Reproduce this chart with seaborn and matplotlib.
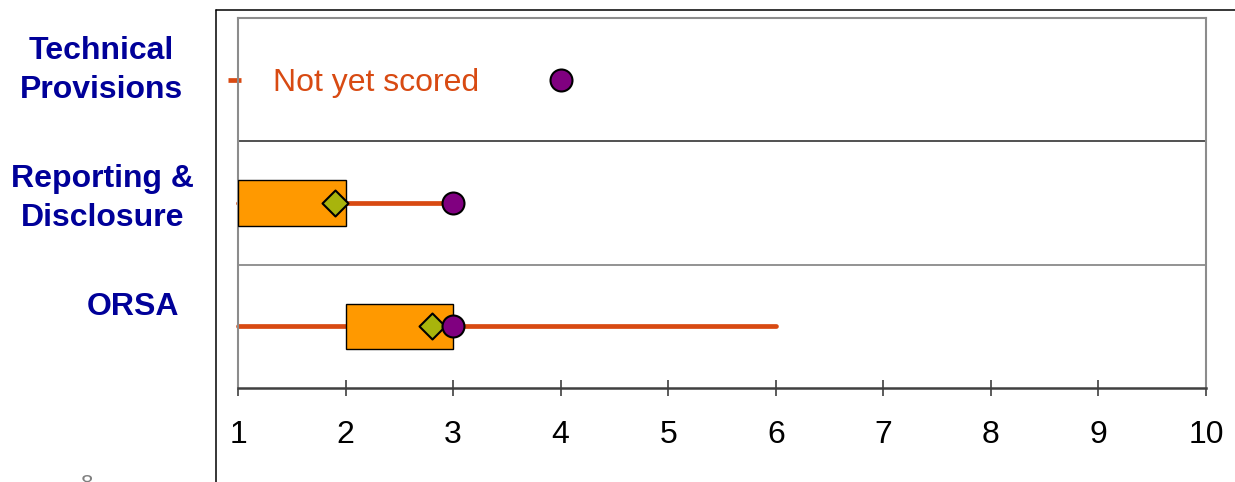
import numpy as np
import pandas as pd
import matplotlib
matplotlib.use("Agg")
import matplotlib.pyplot as plt
from matplotlib.lines import Line2D
import seaborn as sns

# ---- data -------------------------------------------------------------
categories = ["Technical Provisions", "Reporting & Disclosure", "ORSA"]
label_lines = [["Technical", "Provisions"], ["Reporting &", "Disclosure"], ["ORSA"]]
range_low = [0.91, 1.0, 1.0]          # whisker start
range_high = [1.03, 3.0, 6.0]         # whisker end
quartile_low = [np.nan, 1.0, 2.0]     # box start
quartile_high = [np.nan, 2.0, 3.0]    # box end
average_score = [np.nan, 1.9, 2.8]    # diamond
own_score = [4.0, 3.0, 3.0]           # circle
x_ticks = [1, 2, 3, 4, 5, 6, 7, 8, 9, 10]
not_scored_note = "Not yet scored"

# ---- style ------------------------------------------------------------
sns.set_style("white")
plt.rcParams["font.family"] = ["Liberation Sans", "DejaVu Sans"]

W, H = 1235, 482
fig = plt.figure(figsize=(W / 100, H / 100), dpi=100)
ax = fig.add_axes([238 / W, 1 - 388 / H, (1206 - 238) / W, (388 - 18) / H])

whisker_color = "#D84A12"
box_color = "#FF9900"
diamond_color = "#A8B40C"
circle_color = "#800080"
label_color = "#000099"

rows = np.arange(len(categories))

# whiskers
for i in rows:
    seg = pd.DataFrame({"score": [range_low[i], range_high[i]], "row": [i, i]})
    sns.lineplot(data=seg, x="score", y="row", ax=ax, color=whisker_color,
                 lw=3.4, sort=False, estimator=None, zorder=2)
    line = ax.lines[-1]
    line.set_clip_on(False)
    line.set_solid_capstyle("butt" if np.isnan(quartile_low[i]) else "round")

# boxes (interquartile ranges)
ql = np.array(quartile_low)
qh = np.array(quartile_high)
has_box = ~np.isnan(ql)
ax.barh(rows[has_box], qh[has_box] - ql[has_box], left=ql[has_box], height=0.37,
        color=box_color, edgecolor="black", linewidth=1.0, zorder=3)

# averages and own scores
sns.scatterplot(x=average_score, y=rows, ax=ax, marker="D", s=175,
                color=diamond_color, edgecolor="black", linewidth=1.5, zorder=4)
sns.scatterplot(x=own_score, y=rows, ax=ax, marker="o", s=250,
                color=circle_color, edgecolor="black", linewidth=1.5, zorder=5)

# note for the unscored area
ax.text(1.33, 0.09, not_scored_note, color=whisker_color, fontsize=23,
        ha="left", va="baseline")

# row separators
ax.axhline(0.5, color="#333333", lw=1.2, zorder=1)
ax.axhline(1.5, color="#808080", lw=1.2, zorder=1)

# axes
ax.set_xlim(1, 10)
ax.set_ylim(2.5, -0.5)
ax.set_xticks(x_ticks)
ax.set_xticklabels([str(t) for t in x_ticks])
ax.set_yticks([])
ax.set_xlabel("")
ax.set_ylabel("")
ax.tick_params(axis="x", direction="inout", length=12, width=1.2,
               color="#404040", labelcolor="black", labelsize=23, pad=17,
               bottom=True)
for side in ("left", "top", "right"):
    ax.spines[side].set_color("#8C8C8C")
    ax.spines[side].set_linewidth(1.5)
ax.spines["bottom"].set_color("#404040")
ax.spines["bottom"].set_linewidth(1.8)

# row labels
label_pos = [(101, [59, 98]), (102.5, [187, 226]), (133.5, [315])]
for lines, (cx, baselines) in zip(label_lines, label_pos):
    for txt, by in zip(lines, baselines):
        fig.text(cx / W, 1 - by / H, txt, ha="center", va="baseline",
                 fontsize=23, fontweight="bold", color=label_color)

# page frame and page number
fig.add_artist(Line2D([215.5 / W, 215.5 / W], [0, 1 - 9.5 / H],
                      transform=fig.transFigure, color="black", lw=1.1))
fig.add_artist(Line2D([215.5 / W, 1], [1 - 9.5 / H, 1 - 9.5 / H],
                      transform=fig.transFigure, color="black", lw=1.1))
fig.text(87 / W, 1 - 474 / H, "8", ha="center", va="top", fontsize=16,
         color="#808080")

fig.savefig("out.png", dpi=100, facecolor="white")
